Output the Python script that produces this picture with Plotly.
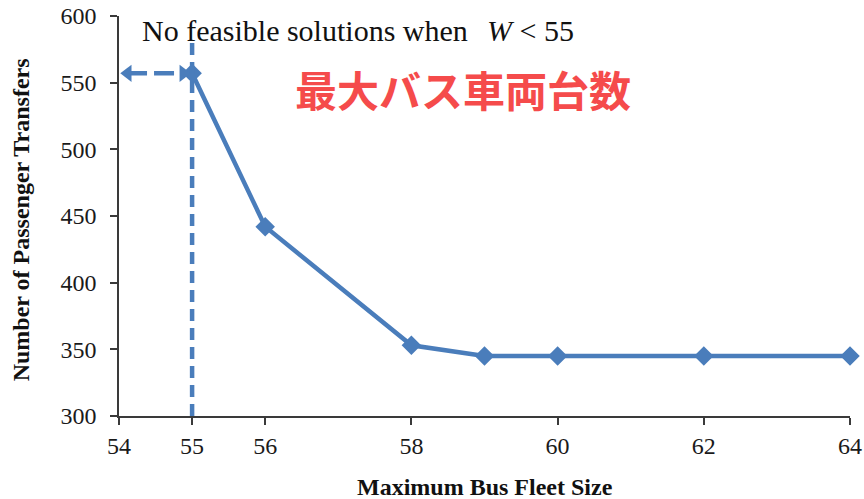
import plotly.graph_objects as go

# Fleet size limit vs. resulting passenger transfers
fleet_size = [55, 56, 58, 59, 60, 62, 64]
transfers = [557, 442, 353, 345, 345, 345, 345]

x_ticks = [54, 55, 56, 58, 60, 62, 64]
y_ticks = [300, 350, 400, 450, 500, 550, 600]

min_feasible = 55
infeasible_start = 54

BLUE = "#4a7dbb"
AXIS = "#3a3a3a"
SERIF = "Liberation Serif, serif"

fig = go.Figure()

# main series
fig.add_trace(go.Scatter(
    x=fleet_size, y=transfers, mode="lines+markers",
    line=dict(color=BLUE, width=4.5),
    marker=dict(symbol="diamond", size=15, color=BLUE),
    cliponaxis=False, showlegend=False, hoverinfo="x+y",
))

# dashed double arrow across the infeasible range
arrow_y = transfers[0]
fig.add_trace(go.Scatter(
    x=[infeasible_start + 0.11, min_feasible - 0.11], y=[arrow_y, arrow_y],
    mode="lines", line=dict(color=BLUE, width=4.5, dash="20px,7px"),
    cliponaxis=False, showlegend=False, hoverinfo="skip",
))
fig.add_trace(go.Scatter(
    x=[infeasible_start + 0.12, min_feasible - 0.12], y=[arrow_y, arrow_y],
    mode="markers",
    marker=dict(symbol=["triangle-left", "triangle-right"], size=15, color=BLUE),
    cliponaxis=False, showlegend=False, hoverinfo="skip",
))

# vertical dashed line at the minimum feasible fleet size
fig.add_shape(type="line", xref="x", yref="y",
              x0=min_feasible, x1=min_feasible, y0=300, y1=582,
              line=dict(color=BLUE, width=4.5, dash="12px,7px"), layer="above")

axis_common = dict(
    showgrid=False, zeroline=False, showline=True, linecolor=AXIS, linewidth=1.5,
    ticks="outside", ticklen=7, tickwidth=1.5, tickcolor=AXIS,
    tickfont=dict(family=SERIF, size=24, color="#1a1a1a"),
    automargin=False,
)
fig.update_xaxes(range=[54, 64], tickvals=x_ticks, ticktext=[str(v) for v in x_ticks],
                 ticklabelstandoff=0, **axis_common)
fig.update_yaxes(range=[300, 600], tickvals=y_ticks, ticklabelstandoff=9, **axis_common)

annotations = [
    dict(text="Maximum Bus Fleet Size", xref="paper", yref="paper",
         x=0.5, y=-0.1775, xanchor="center", yanchor="middle", showarrow=False,
         font=dict(family=SERIF, size=24, color="#111111", weight="bold")),
    dict(text="Number of Passenger Transfers", xref="paper", yref="paper",
         x=-0.1336, y=0.49, xanchor="center", yanchor="middle", showarrow=False,
         textangle=-90,
         font=dict(family=SERIF, size=24, color="#111111", weight="bold")),
    dict(text="No feasible solutions when", xref="paper", yref="paper",
         x=(140 - 119) / 731, y=(416 - 30) / 400, xanchor="left", yanchor="middle",
         showarrow=False, font=dict(family=SERIF, size=30, color="#111111")),
    dict(text="<i>W</i> < 55", xref="paper", yref="paper",
         x=(485 - 119) / 731, y=(416 - 30) / 400, xanchor="left", yanchor="middle",
         showarrow=False, font=dict(family=SERIF, size=30, color="#111111")),
    dict(text="<b>最大バス車両台数</b>", xref="paper", yref="paper",
         x=(463 - 119) / 731, y=(416 - 88) / 400, xanchor="center", yanchor="middle",
         showarrow=False,
         font=dict(family="Noto Sans CJK JP", size=42, color="#f54b4b")),
]

fig.update_layout(
    width=864, height=499,
    margin=dict(l=119, r=14, t=16, b=83),
    paper_bgcolor="white", plot_bgcolor="white",
    annotations=annotations,
)

fig.write_html("out.html")
